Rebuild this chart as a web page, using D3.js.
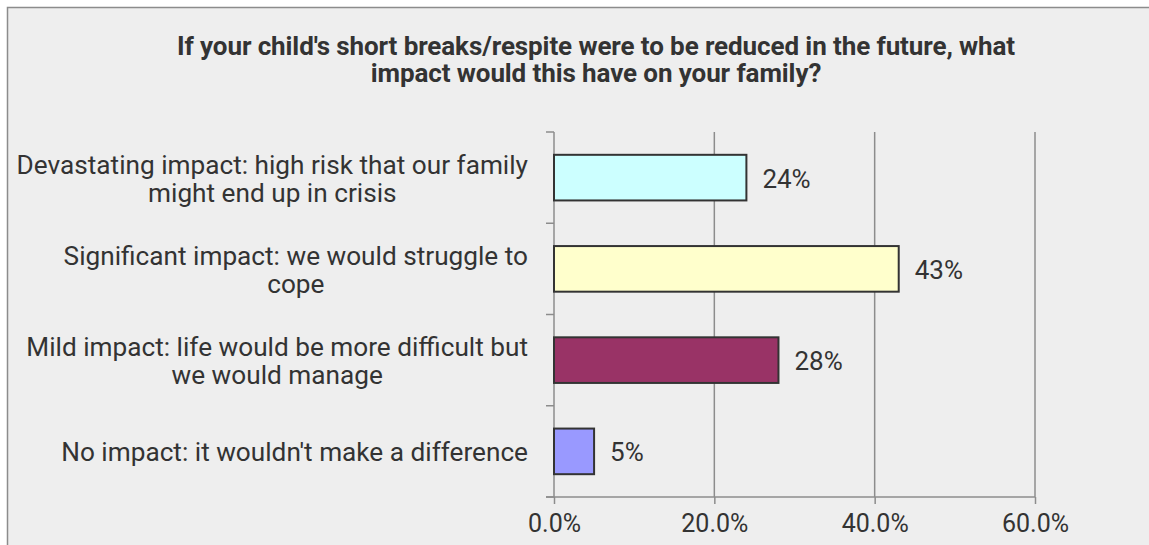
<!DOCTYPE html>
<html>
<head>
<meta charset="utf-8">
<script src="https://cdn.jsdelivr.net/npm/d3@7"></script>
<style>
  html, body { margin: 0; padding: 0; background: #ffffff; }
  svg { display: block; }
  text { font-family: Roboto, "Liberation Sans", Arial, sans-serif; fill: #333333; }
</style>
</head>
<body>
<svg id="chart" width="1149" height="545"></svg>
<script>
// Survey answers (top to bottom) and share of respondents, in percent
const categories = [
  "Devastating impact: high risk that our family might end up in crisis",
  "Significant impact: we would struggle to cope",
  "Mild impact: life would be more difficult but we would manage",
  "No impact: it wouldn't make a difference"
];
const categoryLines = [
  ["Devastating impact: high risk that our family", "might end up in crisis"],
  ["Significant impact: we would struggle to", "cope"],
  ["Mild impact: life would be more difficult but", "we would manage"],
  ["No impact: it wouldn't make a difference"]
];
const values = [24, 43, 28, 5];
const barColors = ["#ccffff", "#ffffcc", "#993366", "#9999ff"];
const xTicks = [0, 20, 40, 60];
const titleLines = [
  "If your child's short breaks/respite were to be reduced in the future, what",
  "impact would this have on your family?"
];

const svg = d3.select("#chart");
const gridColor = "#8c8c8c";

// Chart area frame
svg.append("rect")
  .attr("x", 7.5).attr("y", 7.5)
  .attr("width", 1200).attr("height", 600)
  .attr("fill", "#eeeeee")
  .attr("stroke", "#8c8c8c")
  .attr("stroke-width", 1.5);

// Title
svg.append("g").selectAll("text")
  .data(titleLines)
  .join("text")
  .attr("x", 596)
  .attr("y", (d, i) => 55 + i * 27)
  .attr("text-anchor", "middle")
  .attr("font-size", 26)
  .attr("font-weight", 700)
  .attr("letter-spacing", -0.1)
  .text(d => d);

const x = d3.scaleLinear().domain([0, 60]).range([554, 1035]);
const y = d3.scaleBand()
  .domain(categories)
  .range([132, 497])
  .paddingInner(0.5)
  .paddingOuter(0.25);

// Vertical gridlines
svg.append("g").selectAll("line")
  .data(xTicks.filter(t => t > 0))
  .join("line")
  .attr("x1", d => x(d)).attr("x2", d => x(d))
  .attr("y1", y.range()[0]).attr("y2", y.range()[1])
  .attr("stroke", gridColor)
  .attr("stroke-width", 1.5);

// Bottom axis
const xAxis = svg.append("g")
  .attr("transform", `translate(0,${y.range()[1]})`)
  .call(d3.axisBottom(x)
    .tickValues(xTicks)
    .tickFormat(d => d3.format(".1f")(d) + "%")
    .tickSize(7)
    .tickSizeOuter(0)
    .tickPadding(10));
xAxis.select(".domain").remove();
xAxis.selectAll(".tick line").attr("stroke", gridColor).attr("stroke-width", 1.5);
xAxis.selectAll(".tick text")
  .attr("font-size", 25)
  .attr("font-family", "Roboto, 'Liberation Sans', Arial, sans-serif")
  .attr("fill", "#333333");
svg.append("line")
  .attr("x1", x(0) - 8).attr("x2", x(60))
  .attr("y1", y.range()[1]).attr("y2", y.range()[1])
  .attr("stroke", gridColor).attr("stroke-width", 1.5);

// Left axis with ticks on the category boundaries
const bounds = categories.map(c => y(c) - y.step() * y.paddingInner() / 2)
  .concat([y.range()[1]]);
svg.append("line")
  .attr("x1", x(0)).attr("x2", x(0))
  .attr("y1", y.range()[0]).attr("y2", y.range()[1])
  .attr("stroke", gridColor).attr("stroke-width", 1.5);
svg.append("g").selectAll("line")
  .data(bounds)
  .join("line")
  .attr("x1", x(0) - 8).attr("x2", x(0))
  .attr("y1", d => d).attr("y2", d => d)
  .attr("stroke", gridColor).attr("stroke-width", 1.5);

// Bars
svg.append("g").selectAll("rect")
  .data(values)
  .join("rect")
  .attr("x", x(0))
  .attr("y", (d, i) => y(categories[i]))
  .attr("width", d => x(d) - x(0))
  .attr("height", y.bandwidth())
  .attr("fill", (d, i) => barColors[i])
  .attr("stroke", "#333333")
  .attr("stroke-width", 2);

// Value labels
svg.append("g").selectAll("text")
  .data(values)
  .join("text")
  .attr("x", d => x(d) + 16)
  .attr("y", (d, i) => y(categories[i]) + y.bandwidth() / 2 + 10)
  .attr("font-size", 26)
  .text(d => d3.format(".0f")(d) + "%");

// Category labels: lines centred within a right-aligned block
const lineH = 28;
const labelRight = 528;
const labels = svg.append("g");
categoryLines.forEach((lines, i) => {
  const cy = y(categories[i]) + y.bandwidth() / 2;
  const g = labels.append("g");
  const texts = g.selectAll("text")
    .data(lines)
    .join("text")
    .attr("font-size", 26.2)
    .attr("text-anchor", "middle")
    .attr("y", (d, j) => cy + 10 + (j - (lines.length - 1) / 2) * lineH)
    .text(d => d);
  const w = d3.max(texts.nodes(), n => n.getComputedTextLength());
  texts.attr("x", labelRight - w / 2);
});
</script>
</body>
</html>
